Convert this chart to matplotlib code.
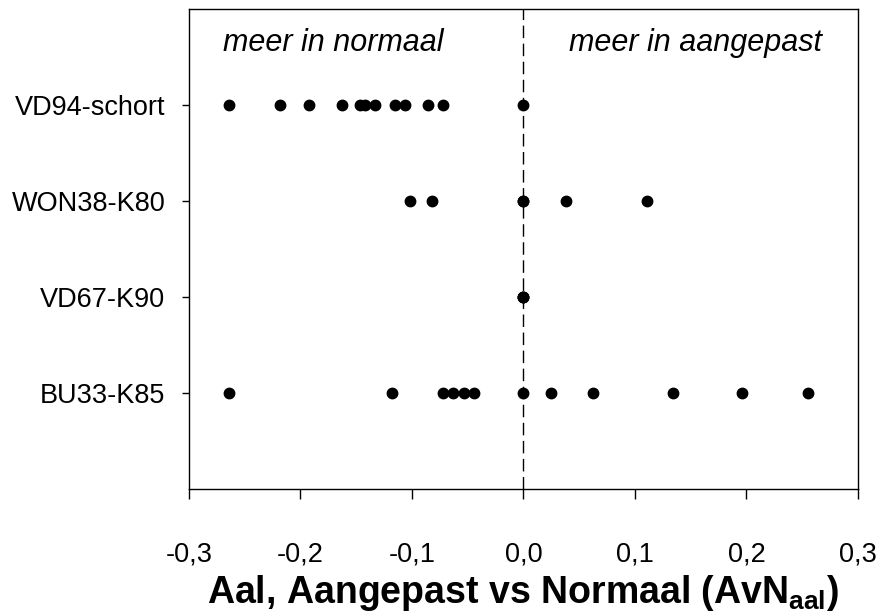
import matplotlib
matplotlib.use("Agg")
import matplotlib.pyplot as plt
from matplotlib.ticker import FuncFormatter

# rows, top to bottom
categories = ["VD94-schort", "WON38-K80", "VD67-K90", "BU33-K85"]
vd94 = [-0.264, -0.218, -0.192, -0.163, -0.147, -0.142, -0.133, -0.115, -0.106, -0.086, -0.072, 0.0]
won38 = [-0.102, -0.082, 0.0, 0.0, 0.038, 0.111]
vd67 = [0.0, 0.0, 0.0]
bu33 = [-0.264, -0.118, -0.072, -0.063, -0.053, -0.044, 0.0, 0.025, 0.062, 0.134, 0.196, 0.255]
xticks = [-0.3, -0.2, -0.1, 0.0, 0.1, 0.2, 0.3]

plt.rcParams["font.family"] = ["Liberation Sans", "DejaVu Sans"]
plt.rcParams["mathtext.default"] = "regular"


def main():
  fig = plt.figure(figsize=(8.79, 6.12), dpi=100)
  ax = fig.add_axes([0.215, 0.201, 0.761, 0.784])

  series = [vd94, won38, vd67, bu33]
  n = len(categories)
  for i, vals in enumerate(series):
    ypos = n - i
    ax.plot(vals, [ypos] * len(vals), "o", color="black", markersize=7.5, linestyle="none")

  ax.axvline(0, color="black", linewidth=1, linestyle=(0, (9, 4)))

  ax.set_xlim(-0.3, 0.3)
  ax.set_ylim(0, n + 1)
  ax.set_xticks(xticks)
  ax.xaxis.set_major_formatter(FuncFormatter(lambda v, p: ("%.1f" % v).replace(".", ",")))
  ax.set_yticks([n - i for i in range(n)])
  ax.set_yticklabels(categories)

  ax.tick_params(axis="x", direction="out", length=7, width=1, labelsize=19.5, pad=31)
  ax.tick_params(axis="y", direction="out", length=5, width=1, labelsize=19.5, pad=12)
  for s in ax.spines.values():
    s.set_linewidth(1)

  ax.text(-0.171, 4.65, "meer in normaal", style="italic", fontsize=22, ha="center", va="center")
  ax.text(0.154, 4.65, "meer in aangepast", style="italic", fontsize=22, ha="center", va="center")

  ax.set_xlabel("Aal, Aangepast vs Normaal (AvN$_{aal}$)", fontsize=27, fontweight="bold", labelpad=4)

  fig.savefig("out.png", dpi=100)


if __name__ == "__main__":
  main()
